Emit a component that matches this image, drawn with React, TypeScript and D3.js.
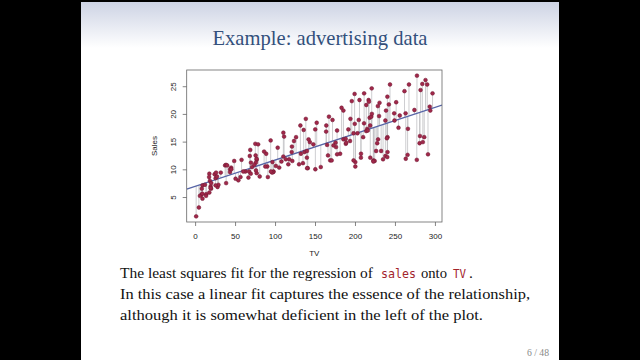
import React from "react"
import * as d3 from "d3"

// Advertising data: TV budget and sales
const tv = [
  230.1, 44.5, 17.2, 151.5, 180.8, 8.7, 57.5, 120.2, 8.6, 199.8, 66.1, 214.7, 23.8, 97.5, 204.1, 195.4, 67.8, 281.4, 69.2, 147.3,
  218.4, 237.4, 13.2, 228.3, 62.3, 262.9, 142.9, 240.1, 248.8, 70.6, 292.9, 112.9, 97.2, 265.6, 95.7, 290.7, 266.9, 74.7, 43.1, 228,
  202.5, 177, 293.6, 206.9, 25.1, 175.1, 89.7, 239.9, 227.2, 66.9, 199.8, 100.4, 216.4, 182.6, 262.7, 198.9, 7.3, 136.2, 210.8, 210.7,
  53.5, 261.3, 239.3, 102.7, 131.1, 69, 31.5, 139.3, 237.4, 216.8, 199.1, 109.8, 26.8, 129.4, 213.4, 16.9, 27.5, 120.5, 5.4, 116,
  76.4, 239.8, 75.3, 68.4, 213.5, 193.2, 76.3, 110.7, 88.3, 109.8, 134.3, 28.6, 217.7, 250.9, 107.4, 163.3, 197.6, 184.9, 289.7, 135.2,
  222.4, 296.4, 280.2, 187.9, 238.2, 137.9, 25, 90.4, 13.1, 255.4, 225.8, 241.7, 175.7, 209.6, 78.2, 75.1, 139.2, 76.4, 125.7, 19.4,
  141.3, 18.8, 224, 123.1, 229.5, 87.2, 7.8, 80.2, 220.3, 59.6, 0.7, 265.2, 8.4, 219.8, 36.9, 48.3, 25.6, 273.7, 43, 184.9,
  73.4, 193.7, 220.5, 104.6, 96.2, 140.3, 240.1, 243.2, 38, 44.7, 280.7, 121, 197.6, 171.3, 187.8, 4.1, 93.9, 149.8, 11.7, 131.7,
  172.5, 85.7, 188.4, 163.5, 117.2, 234.5, 17.9, 206.8, 215.4, 284.3, 50, 164.5, 19.6, 168.4, 222.4, 276.9, 248.4, 170.2, 276.7, 165.6,
  156.6, 218.5, 56.2, 287.6, 253.8, 205, 139.5, 191.1, 286, 18.7, 39.5, 75.5, 17.2, 166.8, 149.7, 38.2, 94.2, 177, 283.6, 232.1,
]
const sales = [
  22.1, 10.4, 9.3, 18.5, 12.9, 7.2, 11.8, 13.2, 4.8, 10.6, 8.6, 17.4, 9.2, 9.7, 19, 22.4, 12.5, 24.4, 11.3, 14.6,
  18, 12.5, 5.6, 15.5, 9.7, 12, 15, 15.9, 18.9, 10.5, 21.4, 11.9, 9.6, 17.4, 9.5, 12.8, 25.4, 14.7, 10.1, 21.5,
  16.6, 17.1, 20.7, 12.9, 8.5, 14.9, 10.6, 23.2, 14.8, 9.7, 11.4, 10.7, 22.6, 21.2, 20.2, 23.7, 5.5, 13.2, 23.8, 18.4,
  8.1, 24.2, 15.7, 14, 18, 9.3, 9.5, 13.4, 18.9, 22.3, 18.3, 12.4, 8.8, 11, 17, 8.7, 6.9, 14.2, 5.3, 11,
  11.8, 12.3, 11.3, 13.6, 21.7, 15.2, 12, 16, 12.9, 16.7, 11.2, 7.3, 19.4, 22.2, 11.5, 16.9, 11.7, 15.5, 25.4, 17.2,
  11.7, 23.8, 14.8, 14.7, 20.7, 19.2, 7.2, 8.7, 5.3, 19.8, 13.4, 21.8, 14.1, 15.9, 14.6, 12.6, 12.2, 9.4, 15.9, 6.6,
  15.5, 7, 11.6, 15.2, 19.7, 10.6, 6.6, 8.8, 24.7, 9.7, 1.6, 12.7, 5.7, 19.6, 10.8, 11.6, 9.5, 20.8, 9.6, 20.7,
  10.9, 19.2, 20.1, 10.4, 11.4, 10.3, 13.2, 25.4, 10.9, 10.1, 16.1, 11.6, 16.6, 19, 15.6, 3.2, 15.3, 10.1, 7.3, 12.9,
  14.4, 13.3, 14.9, 18, 11.9, 11.9, 8, 12.2, 17.1, 15, 8.4, 14.5, 7.6, 11.7, 11.5, 27, 20.2, 11.7, 11.8, 12.6,
  10.5, 12.2, 8.7, 26.2, 17.6, 22.6, 10.3, 17.3, 15.9, 6.7, 10.8, 9.9, 5.9, 19.6, 17.3, 7.6, 9.7, 12.8, 25.5, 13.4,
]
const xTicks = [0, 50, 100, 150, 200, 250, 300]
const yTicks = [5, 10, 15, 20, 25]
const intercept = 7.0326
const slope = 0.047537

const serif = "'Liberation Serif', 'DejaVu Serif', serif"
const sans = "'Liberation Sans', Arial, sans-serif"
const mono = "'DejaVu Sans Mono', 'Liberation Mono', monospace"

export default function App() {
  // plot box, R style with 4% padding on each axis
  const left = 186.7, right = 442, top = 70, bottom = 222
  const [x0, x1] = d3.extent(tv) as [number, number]
  const [y0, y1] = d3.extent(sales) as [number, number]
  const px = (x1 - x0) * 0.04
  const py = (y1 - y0) * 0.04
  const x = d3.scaleLinear().domain([x0 - px, x1 + px]).range([left, right])
  const y = d3.scaleLinear().domain([y0 - py, y1 + py]).range([bottom, top])
  const fit = (v: number) => intercept + slope * v
  const [dx0, dx1] = x.domain()

  const tick = 4
  const codeColor = "#a3242c"

  return (
    <svg width={640} height={360} style={{ position: "absolute", left: 0, top: 0 }}>
      <defs>
        <linearGradient id="head" x1="0" y1="0" x2="0" y2="1">
          <stop offset="0" stopColor="#cdd3e4" />
          <stop offset="1" stopColor="#ffffff" />
        </linearGradient>
        <clipPath id="box">
          <rect x={left} y={top} width={right - left} height={bottom - top} />
        </clipPath>
      </defs>
      <rect width={640} height={360} fill="#000" />
      <rect x={81} y={2} width={478} height={358} fill="#fff" />
      <rect x={81} y={2} width={478} height={46} fill="url(#head)" />

      <text x={320} y={45} textAnchor="middle" fontFamily={serif} fontSize={22} fill="#33507c"
        textLength={215} lengthAdjust="spacingAndGlyphs">
        Example: advertising data
      </text>

      {/* residuals */}
      <g stroke="#b8b8bc" strokeWidth={0.7}>
        {tv.map((t, i) => (
          <line key={i} x1={x(t)} x2={x(t)} y1={y(sales[i])} y2={y(fit(t))} />
        ))}
      </g>
      <line clipPath="url(#box)" x1={x(dx0)} x2={x(dx1)} y1={y(fit(dx0))} y2={y(fit(dx1))}
        stroke="#5664a6" strokeWidth={1.3} />
      <g fill="#a0284a" stroke="#6e1630" strokeWidth={0.5}>
        {tv.map((t, i) => (
          <circle key={i} cx={x(t)} cy={y(sales[i])} r={1.9} />
        ))}
      </g>

      <rect x={left} y={top} width={right - left} height={bottom - top} fill="none" stroke="#666" strokeWidth={0.8} />

      <g fontFamily={sans} fontSize={8} fill="#222">
        {xTicks.map(v => (
          <g key={v}>
            <line x1={x(v)} x2={x(v)} y1={bottom} y2={bottom + tick} stroke="#666" strokeWidth={0.8} />
            <text x={x(v)} y={239} textAnchor="middle">{v}</text>
          </g>
        ))}
        {yTicks.map(v => (
          <g key={v}>
            <line x1={left - tick} x2={left} y1={y(v)} y2={y(v)} stroke="#666" strokeWidth={0.8} />
            <text transform={`translate(${175.5},${y(v)}) rotate(-90)`} textAnchor="middle">{v}</text>
          </g>
        ))}
        <text x={(left + right) / 2} y={256} textAnchor="middle">TV</text>
        <text transform={`translate(157,${(top + bottom) / 2}) rotate(-90)`} textAnchor="middle">Sales</text>
      </g>

      <g fontFamily={serif} fontSize={15.5} fill="#111">
        <text x={120} y={278} textLength={253} lengthAdjust="spacingAndGlyphs">
          The least squares fit for the regression of
        </text>
        <text x={381} y={278} fontFamily={mono} fontSize={13} fill={codeColor}
          textLength={35} lengthAdjust="spacingAndGlyphs">sales</text>
        <text x={421} y={278} textLength={26} lengthAdjust="spacingAndGlyphs">onto</text>
        <text x={453} y={278} fontFamily={mono} fontSize={13} fill={codeColor}
          textLength={13} lengthAdjust="spacingAndGlyphs">TV</text>
        <text x={469} y={278}>.</text>
        <text x={120} y={299} textLength={410} lengthAdjust="spacingAndGlyphs">
          In this case a linear fit captures the essence of the relationship,
        </text>
        <text x={120} y={320} textLength={363} lengthAdjust="spacingAndGlyphs">
          although it is somewhat deficient in the left of the plot.
        </text>
      </g>

      <text x={549} y={356} textAnchor="end" fontFamily={serif} fontSize={10} fill="#888"
        textLength={22} lengthAdjust="spacingAndGlyphs">6 / 48</text>
    </svg>
  )
}
